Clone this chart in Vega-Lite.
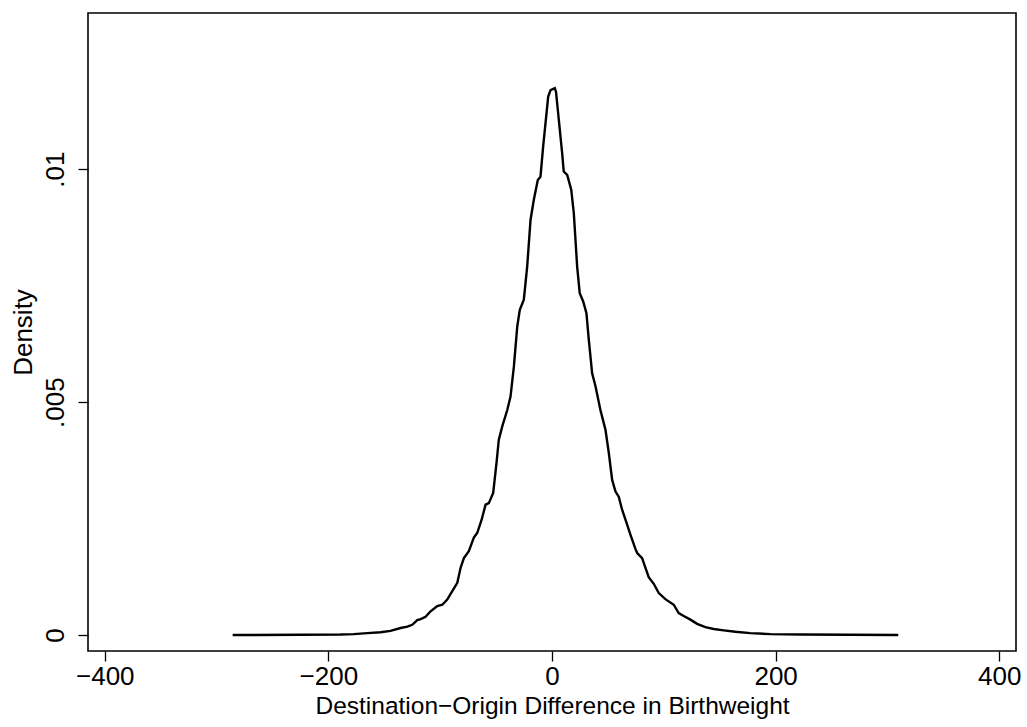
{
  "$schema": "https://vega.github.io/schema/vega-lite/v6.json",
  "autosize": "none",
  "padding": {"left": 88, "top": 13, "right": 11, "bottom": 76},
  "width": 928,
  "height": 638,
  "background": "white",
  "config": {
    "view": {"stroke": "black", "strokeWidth": 1.6},
    "font": "Liberation Sans",
    "axis": {
      "domain": false,
      "grid": false,
      "ticks": true,
      "tickColor": "black",
      "tickSize": 10,
      "tickWidth": 1.3,
      "labelFont": "Liberation Sans",
      "labelFontSize": 26,
      "labelColor": "black",
      "titleFont": "Liberation Sans",
      "titleFontSize": 26,
      "titleFontWeight": "normal",
      "titleColor": "black"
    }
  },
  "data": {
    "values": [
      {"x": -285.6, "y": 0.0},
      {"x": -224.8, "y": 0.000005},
      {"x": -189.0, "y": 0.00001},
      {"x": -177.4, "y": 0.00002},
      {"x": -165.2, "y": 0.00004},
      {"x": -153.3, "y": 0.00006},
      {"x": -144.4, "y": 0.00009},
      {"x": -135.4, "y": 0.00015},
      {"x": -129.4, "y": 0.00018},
      {"x": -125.0, "y": 0.00022},
      {"x": -120.5, "y": 0.00032},
      {"x": -117.5, "y": 0.00034},
      {"x": -113.1, "y": 0.00039},
      {"x": -108.6, "y": 0.00051},
      {"x": -102.6, "y": 0.00062},
      {"x": -98.1, "y": 0.00065},
      {"x": -93.7, "y": 0.00076},
      {"x": -89.2, "y": 0.00094},
      {"x": -84.7, "y": 0.00112},
      {"x": -81.8, "y": 0.00144},
      {"x": -78.8, "y": 0.00165},
      {"x": -74.4, "y": 0.0018},
      {"x": -69.9, "y": 0.00209},
      {"x": -66.9, "y": 0.00219},
      {"x": -63.0, "y": 0.00247},
      {"x": -59.4, "y": 0.0028},
      {"x": -56.5, "y": 0.00283},
      {"x": -52.6, "y": 0.00305},
      {"x": -49.6, "y": 0.0037},
      {"x": -47.6, "y": 0.00419},
      {"x": -44.5, "y": 0.00448},
      {"x": -40.0, "y": 0.00483},
      {"x": -37.1, "y": 0.00512},
      {"x": -34.1, "y": 0.00576},
      {"x": -31.1, "y": 0.00662},
      {"x": -28.8, "y": 0.00698},
      {"x": -25.2, "y": 0.0072},
      {"x": -22.2, "y": 0.00791},
      {"x": -19.2, "y": 0.00891},
      {"x": -16.3, "y": 0.00934},
      {"x": -12.7, "y": 0.00977},
      {"x": -10.3, "y": 0.00984},
      {"x": -7.9, "y": 0.01049},
      {"x": -5.8, "y": 0.01099},
      {"x": -3.4, "y": 0.01156},
      {"x": -1.3, "y": 0.0117},
      {"x": 2.5, "y": 0.01174},
      {"x": 3.6, "y": 0.01166},
      {"x": 6.1, "y": 0.01106},
      {"x": 9.1, "y": 0.01034},
      {"x": 10.5, "y": 0.00995},
      {"x": 13.6, "y": 0.00988},
      {"x": 17.2, "y": 0.00956},
      {"x": 19.5, "y": 0.00906},
      {"x": 22.5, "y": 0.00791},
      {"x": 24.8, "y": 0.00734},
      {"x": 27.9, "y": 0.00716},
      {"x": 30.8, "y": 0.00691},
      {"x": 32.9, "y": 0.00634},
      {"x": 35.9, "y": 0.00562},
      {"x": 38.9, "y": 0.00534},
      {"x": 43.3, "y": 0.00483},
      {"x": 47.8, "y": 0.00441},
      {"x": 50.8, "y": 0.00391},
      {"x": 53.8, "y": 0.00333},
      {"x": 56.8, "y": 0.00308},
      {"x": 59.7, "y": 0.00297},
      {"x": 62.7, "y": 0.00269},
      {"x": 67.2, "y": 0.00237},
      {"x": 70.2, "y": 0.00215},
      {"x": 74.6, "y": 0.00185},
      {"x": 76.2, "y": 0.00176},
      {"x": 80.6, "y": 0.00165},
      {"x": 83.6, "y": 0.00144},
      {"x": 86.5, "y": 0.00124},
      {"x": 91.0, "y": 0.0011},
      {"x": 95.5, "y": 0.0009},
      {"x": 101.4, "y": 0.00077},
      {"x": 108.9, "y": 0.00065},
      {"x": 113.3, "y": 0.00047},
      {"x": 117.8, "y": 0.00041},
      {"x": 123.8, "y": 0.00033},
      {"x": 129.8, "y": 0.00024},
      {"x": 137.2, "y": 0.00017},
      {"x": 144.6, "y": 0.00013},
      {"x": 153.6, "y": 0.0001},
      {"x": 164.0, "y": 0.00007},
      {"x": 177.4, "y": 0.00004},
      {"x": 195.3, "y": 0.00002},
      {"x": 222.1, "y": 0.00001},
      {"x": 309.7, "y": 0.0}
    ]
  },
  "mark": {"type": "line", "color": "black", "strokeWidth": 2.4, "clip": true},
  "encoding": {
    "x": {
      "field": "x",
      "type": "quantitative",
      "title": "Destination−Origin Difference in Birthweight",
      "scale": {"domain": [-415, 415], "nice": false, "zero": false},
      "axis": {"values": [-400, -200, 0, 200, 400], "format": "d", "labelPadding": 2, "titlePadding": 5, "titleFontSize": 24.5, "labelFlush": false, "labelOverlap": false}
    },
    "y": {
      "field": "y",
      "type": "quantitative",
      "title": "Density",
      "scale": {"domain": [-0.000343, 0.013354], "nice": false, "zero": false},
      "axis": {
        "values": [0, 0.005, 0.01],
        "labelExpr": "datum.value == 0 ? '0' : datum.value == 0.005 ? '.005' : '.01'",
        "labelAngle": -90,
        "labelAlign": "center",
        "labelBaseline": "bottom",
        "labelPadding": 10,
        "titlePadding": 6,
        "labelFlush": false,
        "labelOverlap": false
      }
    }
  }
}
